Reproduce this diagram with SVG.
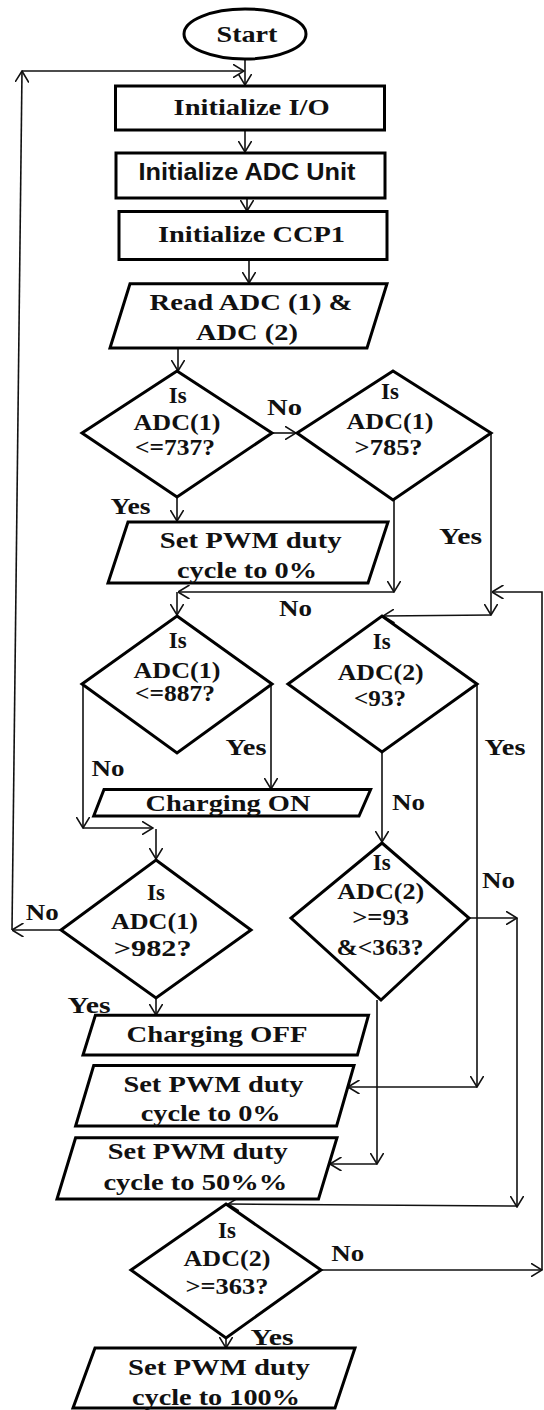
<svg xmlns="http://www.w3.org/2000/svg" width="544" height="1410" viewBox="0 0 544 1410">
<style>
.t{font-family:"Liberation Serif","Times New Roman",serif;font-weight:bold;font-size:23px;text-anchor:middle;fill:#111}
.s{font-family:"Liberation Sans",Arial,sans-serif;font-weight:bold;font-size:23px;text-anchor:middle;fill:#111}
.n{fill:#fff;stroke:#000;stroke-width:3;stroke-linejoin:miter}
.c{fill:none;stroke:#111;stroke-width:1.6;marker-end:url(#a)}
.p{fill:none;stroke:#111;stroke-width:1.6}
</style>
<defs>
<marker id="a" viewBox="0 0 12 14" refX="11.5" refY="7" markerWidth="12" markerHeight="14" markerUnits="userSpaceOnUse" orient="auto">
<path d="M0,0 L11.5,7 L0,14" fill="none" stroke="#111" stroke-width="1.6"/>
</marker>
</defs>
<rect width="544" height="1410" fill="#fff"/>
<g id="connectors">
<path class="c" d="M245,59 L245,85"/>
<path class="c" d="M245,130 L245,152"/>
<path class="c" d="M247,198 L247,211"/>
<path class="c" d="M249,259 L249,283"/>
<path class="c" d="M178,348 L178,371"/>
<path class="c" d="M272,433 L296,433"/>
<path class="c" d="M177,497 L177,521"/>
<path class="c" d="M394,500 L394,592"/>
<path class="c" d="M394,592 L178,592"/>
<path class="c" d="M177,592 L177,615"/>
<path class="c" d="M491,433 L491,615"/>
<path class="c" d="M491,615 L383,616"/>
<path class="c" d="M322,1270 L542,1270"/>
<path class="c" d="M542,1270 L542,592 L492,592"/>
<path class="c" d="M271,684 L271,789"/>
<path class="c" d="M83,684 L83,828"/>
<path class="c" d="M83,828 L153,828"/>
<path class="c" d="M156,829 L156,859"/>
<path class="c" d="M61,930 L12,930"/>
<path class="c" d="M12,930 L22,71"/>
<path class="c" d="M22,71 L244,71"/>
<path class="c" d="M156,998 L156,1015"/>
<path class="c" d="M477,684 L477,1087"/>
<path class="c" d="M477,1087 L348,1087"/>
<path class="c" d="M382,752 L382,842"/>
<path class="c" d="M469,918 L517,918"/>
<path class="c" d="M517,918 L517,1207"/>
<path class="c" d="M517,1206 L228,1204"/>
<path class="c" d="M377,1000 L377,1164"/>
<path class="c" d="M377,1164 L330,1164"/>
<path class="c" d="M226,1338 L226,1348"/>
<text class="t" x="284.5" y="415" textLength="35" lengthAdjust="spacingAndGlyphs">No</text>
<text class="t" x="130.6" y="514" textLength="40" lengthAdjust="spacingAndGlyphs">Yes</text>
<text class="t" x="460.5" y="544" textLength="43" lengthAdjust="spacingAndGlyphs">Yes</text>
<text class="t" x="295.6" y="616" textLength="33" lengthAdjust="spacingAndGlyphs">No</text>
<text class="t" x="246" y="755" textLength="41" lengthAdjust="spacingAndGlyphs">Yes</text>
<text class="t" x="505" y="755" textLength="41" lengthAdjust="spacingAndGlyphs">Yes</text>
<text class="t" x="108" y="776" textLength="33" lengthAdjust="spacingAndGlyphs">No</text>
<text class="t" x="408.5" y="810" textLength="33" lengthAdjust="spacingAndGlyphs">No</text>
<text class="t" x="498.6" y="888" textLength="33" lengthAdjust="spacingAndGlyphs">No</text>
<text class="t" x="42.3" y="920" textLength="33" lengthAdjust="spacingAndGlyphs">No</text>
<text class="t" x="89" y="1013" textLength="43" lengthAdjust="spacingAndGlyphs">Yes</text>
<text class="t" x="347.7" y="1261" textLength="33" lengthAdjust="spacingAndGlyphs">No</text>
<text class="t" x="272" y="1345" textLength="43" lengthAdjust="spacingAndGlyphs">Yes</text>
</g>
<g id="start">
<ellipse class="n" cx="245" cy="34" rx="61" ry="25"/>
<text class="t" x="247" y="42" textLength="61" lengthAdjust="spacingAndGlyphs">Start</text>
</g>
<g id="init-io">
<rect class="n" x="115.5" y="86" width="269" height="44"/>
<text class="t" x="251.6" y="115" textLength="156" lengthAdjust="spacingAndGlyphs">Initialize I/O</text>
</g>
<g id="init-adc">
<rect class="n" x="116" y="153" width="269" height="45"/>
<text class="s" x="247" y="180" textLength="217" lengthAdjust="spacingAndGlyphs">Initialize ADC Unit</text>
</g>
<g id="init-ccp1">
<rect class="n" x="119" y="211.5" width="268" height="48"/>
<text class="t" x="251.5" y="242" textLength="187" lengthAdjust="spacingAndGlyphs">Initialize CCP1</text>
</g>
<g id="read-adc">
<polygon class="n" points="130,283.7 387,283.7 367,348 110,348"/>
<text class="t" x="251" y="310" textLength="203" lengthAdjust="spacingAndGlyphs">Read ADC (1) &amp;</text>
<text class="t" x="247" y="340" textLength="102" lengthAdjust="spacingAndGlyphs">ADC (2)</text>
</g>
<g id="dec-737">
<polygon class="n" points="177,371 272,433 177,497 82,433"/>
<text class="t" x="177.7" y="403">Is</text>
<text class="t" x="177" y="430" textLength="87" lengthAdjust="spacingAndGlyphs">ADC(1)</text>
<text class="t" x="175" y="455" textLength="80" lengthAdjust="spacingAndGlyphs">&lt;=737?</text>
</g>
<g id="dec-785">
<polygon class="n" points="393,371 491,433 393,500 297,433"/>
<text class="t" x="390" y="399">Is</text>
<text class="t" x="390" y="429" textLength="87" lengthAdjust="spacingAndGlyphs">ADC(1)</text>
<text class="t" x="388.6" y="455" textLength="68" lengthAdjust="spacingAndGlyphs">&gt;785?</text>
</g>
<g id="pwm0-a">
<polygon class="n" points="128,522 388,522 368,583 108,583"/>
<text class="t" x="250.7" y="548" textLength="182" lengthAdjust="spacingAndGlyphs">Set PWM duty</text>
<text class="t" x="247" y="578" textLength="140" lengthAdjust="spacingAndGlyphs">cycle to 0%</text>
</g>
<g id="dec-887">
<polygon class="n" points="177,616 272,684 177,753 82,684"/>
<text class="t" x="177.7" y="648">Is</text>
<text class="t" x="177" y="678" textLength="87" lengthAdjust="spacingAndGlyphs">ADC(1)</text>
<text class="t" x="175" y="701" textLength="80" lengthAdjust="spacingAndGlyphs">&lt;=887?</text>
</g>
<g id="dec-93">
<polygon class="n" points="382,616 477,684 382,752 288,684"/>
<text class="t" x="381.7" y="649">Is</text>
<text class="t" x="380.7" y="680" textLength="86" lengthAdjust="spacingAndGlyphs">ADC(2)</text>
<text class="t" x="380" y="706" textLength="52" lengthAdjust="spacingAndGlyphs">&lt;93?</text>
</g>
<g id="charging-on">
<polygon class="n" points="104,789.5 370.6,789.5 359,816 93.7,816"/>
<text class="t" x="228" y="811" textLength="165" lengthAdjust="spacingAndGlyphs">Charging ON</text>
</g>
<g id="dec-982">
<polygon class="n" points="156,860 251,930 156,998 61,930"/>
<text class="t" x="156" y="900">Is</text>
<text class="t" x="154.4" y="929" textLength="87" lengthAdjust="spacingAndGlyphs">ADC(1)</text>
<text class="t" x="152.7" y="956" textLength="78" lengthAdjust="spacingAndGlyphs">&gt;982?</text>
</g>
<g id="dec-93-363">
<polygon class="n" points="382,843 469,918 381,1000 291,918"/>
<text class="t" x="381.7" y="870">Is</text>
<text class="t" x="380.7" y="899" textLength="87" lengthAdjust="spacingAndGlyphs">ADC(2)</text>
<text class="t" x="380.7" y="925" textLength="57" lengthAdjust="spacingAndGlyphs">&gt;=93</text>
<text class="t" x="380" y="955" textLength="87" lengthAdjust="spacingAndGlyphs">&amp;&lt;363?</text>
</g>
<g id="charging-off">
<polygon class="n" points="95.4,1015.2 368.5,1015.2 357.4,1055 83,1055"/>
<text class="t" x="217" y="1042" textLength="181" lengthAdjust="spacingAndGlyphs">Charging OFF</text>
</g>
<g id="pwm0-b">
<polygon class="n" points="93.7,1065.5 354,1065.5 336.6,1126 75.6,1126"/>
<text class="t" x="213.4" y="1092" textLength="180" lengthAdjust="spacingAndGlyphs">Set PWM duty</text>
<text class="t" x="210.7" y="1121" textLength="140" lengthAdjust="spacingAndGlyphs">cycle to 0%</text>
</g>
<g id="pwm50">
<polygon class="n" points="75.6,1137.7 337,1137.7 318.5,1199 57,1199"/>
<text class="t" x="197.8" y="1159" textLength="180" lengthAdjust="spacingAndGlyphs">Set PWM duty</text>
<text class="t" x="195.4" y="1190" textLength="184" lengthAdjust="spacingAndGlyphs">cycle to 50%%</text>
</g>
<g id="dec-363">
<polygon class="n" points="226,1204 321,1270 226,1338 131,1270"/>
<text class="t" x="227" y="1238">Is</text>
<text class="t" x="227" y="1266" textLength="87" lengthAdjust="spacingAndGlyphs">ADC(2)</text>
<text class="t" x="227" y="1294" textLength="83" lengthAdjust="spacingAndGlyphs">&gt;=363?</text>
</g>
<g id="pwm100">
<polygon class="n" points="95,1348 355,1348 335,1408 73,1408"/>
<text class="t" x="219" y="1375" textLength="182" lengthAdjust="spacingAndGlyphs">Set PWM duty</text>
<text class="t" x="216" y="1405" textLength="168" lengthAdjust="spacingAndGlyphs">cycle to 100%</text>
</g>
</svg>
